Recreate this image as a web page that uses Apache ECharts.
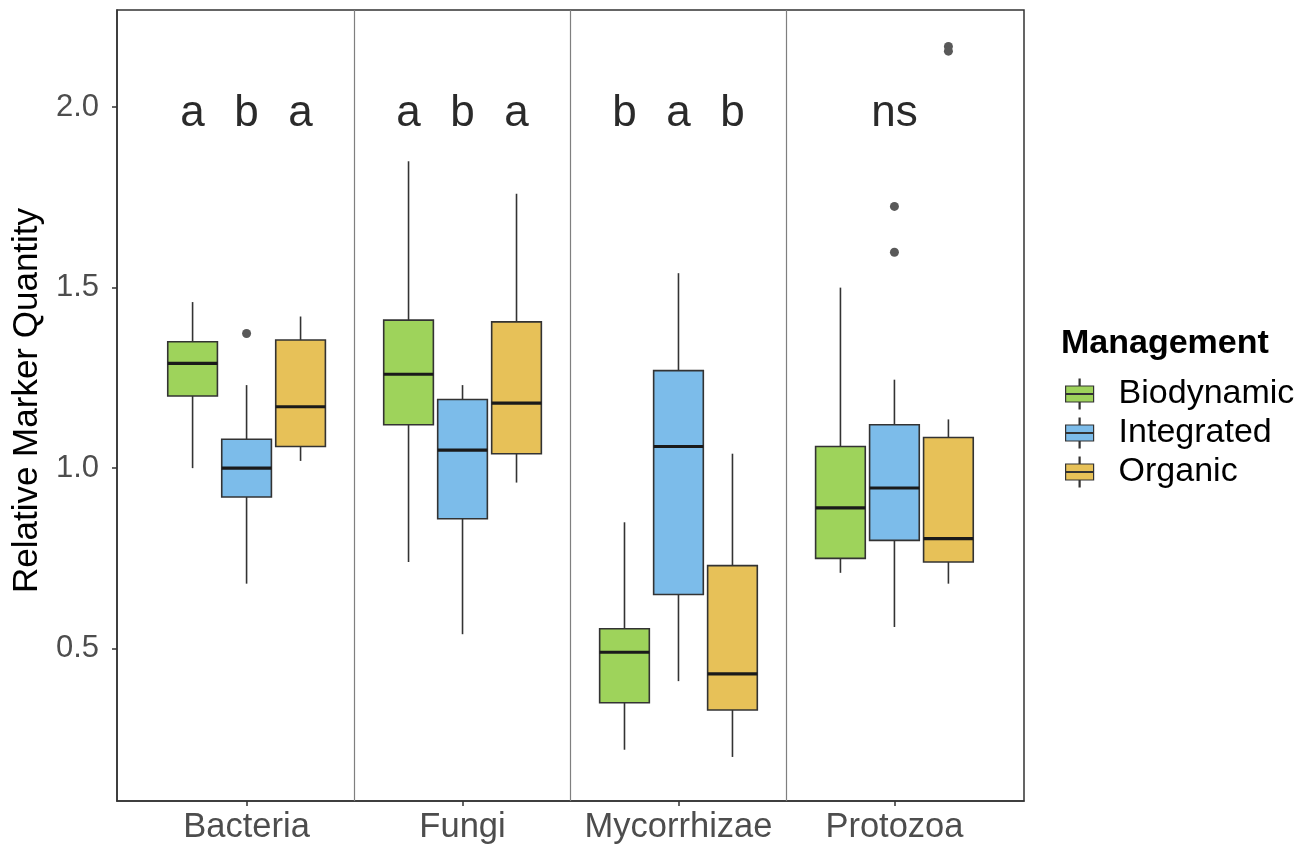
<!DOCTYPE html>
<html>
<head>
<meta charset="utf-8">
<title>Relative Marker Quantity by Management</title>
<script src="https://cdn.jsdelivr.net/npm/echarts@6/dist/echarts.min.js"></script>
<style>
  html, body { margin: 0; padding: 0; background: #ffffff; }
  #chart { width: 1298px; height: 845px; }
</style>
</head>
<body>
<div id="chart"></div>
<script>
// Marker groups along the x axis
const CATEGORIES = ['Bacteria', 'Fungi', 'Mycorrhizae', 'Protozoa'];
const MANAGEMENT = ['Biodynamic', 'Integrated', 'Organic'];
const Y_TICKS = [0.5, 1.0, 1.5, 2.0];

// Box statistics per marker group: [lower whisker, Q1, median, Q3, upper whisker]
const biodynamicStats = [
  [1.00, 1.20, 1.29, 1.35, 1.46],
  [0.74, 1.12, 1.26, 1.41, 1.85],
  [0.22, 0.35, 0.49, 0.555, 0.85],
  [0.71, 0.75, 0.89, 1.06, 1.50]
];
const integratedStats = [
  [0.68, 0.92, 1.00, 1.08, 1.23],
  [0.54, 0.86, 1.05, 1.19, 1.23],
  [0.41, 0.65, 1.06, 1.27, 1.54],
  [0.56, 0.80, 0.945, 1.12, 1.245]
];
const organicStats = [
  [1.02, 1.06, 1.17, 1.355, 1.42],
  [0.96, 1.04, 1.18, 1.405, 1.76],
  [0.20, 0.33, 0.43, 0.73, 1.04],
  [0.68, 0.74, 0.805, 1.085, 1.135]
];

// Outlying observations: [marker group index, value]
const biodynamicOutliers = [];
const integratedOutliers = [[0, 1.373], [3, 1.725], [3, 1.598]];
const organicOutliers = [[3, 2.168], [3, 2.155]];

// Significance letters per marker group (one per management type, or one for the group)
const SIGNIFICANCE = [
  ['a', 'b', 'a'],
  ['a', 'b', 'a'],
  ['b', 'a', 'b'],
  ['ns']
];
const SIG_LEVEL = 1.98;

const COLORS = ['#9ED35B', '#7CBCEA', '#E7C158'];
const STATS = [biodynamicStats, integratedStats, organicStats];
const OUTLIERS = [biodynamicOutliers, integratedOutliers, organicOutliers];

const DODGE = [-0.25, 0, 0.25];   // horizontal offset of each management box within a group
const BOX_W = 0.23;               // box width in x-axis units
const FONT = 'Liberation Sans, Arial, Helvetica, sans-serif';

const chart = echarts.init(document.getElementById('chart'), null, { renderer: 'canvas' });

function boxRenderer(gi) {
  return function (params, api) {
    const x = api.value(0) + DODGE[gi];
    const low = api.coord([x, api.value(1)]);
    const q1 = api.coord([x, api.value(2)]);
    const med = api.coord([x, api.value(3)]);
    const q3 = api.coord([x, api.value(4)]);
    const high = api.coord([x, api.value(5)]);
    const halfW = api.size([BOX_W, 0])[0] / 2;
    const cx = q1[0];
    return {
      type: 'group',
      children: [
        { type: 'line', shape: { x1: cx, y1: low[1], x2: cx, y2: q1[1] },
          style: { stroke: '#333333', lineWidth: 1.6 } },
        { type: 'line', shape: { x1: cx, y1: q3[1], x2: cx, y2: high[1] },
          style: { stroke: '#333333', lineWidth: 1.6 } },
        { type: 'rect', shape: { x: cx - halfW, y: q3[1], width: 2 * halfW, height: q1[1] - q3[1] },
          style: { fill: COLORS[gi], stroke: '#333333', lineWidth: 1.6 } },
        { type: 'line', shape: { x1: cx - halfW, y1: med[1], x2: cx + halfW, y2: med[1] },
          style: { stroke: '#1a1a1a', lineWidth: 3.2 } }
      ]
    };
  };
}

const boxSeries = MANAGEMENT.map(function (name, gi) {
  return {
    name: name,
    type: 'custom',
    renderItem: boxRenderer(gi),
    encode: { x: 0, y: [1, 2, 3, 4, 5] },
    itemStyle: { color: COLORS[gi], borderColor: '#333333', borderWidth: 1.2 },
    data: STATS[gi].map(function (s, ci) { return [ci + 1].concat(s); }),
    z: 3
  };
});

// Outlier points, dodged the same way as their boxes
const outlierData = [];
OUTLIERS.forEach(function (list, gi) {
  list.forEach(function (o) { outlierData.push([o[0] + 1 + DODGE[gi], o[1]]); });
});

// Significance letters placed above each box (or group)
const letterData = [];
SIGNIFICANCE.forEach(function (letters, ci) {
  letters.forEach(function (txt, li) {
    const off = letters.length === 1 ? 0 : DODGE[li];
    letterData.push({ value: [ci + 1 + off, SIG_LEVEL], label: { formatter: txt } });
  });
});

// Vertical separators between marker groups
const separators = CATEGORIES.slice(1).map(function (_, i) { return { xAxis: i + 1.5 }; });

const legendIcon = 'path://M0,7 L28,7 L28,23 L0,23 Z M13.5,0 L14.5,0 L14.5,7 L13.5,7 Z ' +
  'M13.5,23 L14.5,23 L14.5,30 L13.5,30 Z M0,14.5 L28,14.5 L28,15.5 L0,15.5 Z';

const option = {
  animation: false,
  backgroundColor: '#ffffff',
  textStyle: { fontFamily: FONT },
  title: {
    text: 'Management',
    left: 1061,
    top: 327,
    padding: 0,
    textStyle: { fontFamily: FONT, fontSize: 34, fontWeight: 'bold', color: '#000000' }
  },
  legend: {
    data: MANAGEMENT.map(function (n, gi) {
      return { name: n, icon: legendIcon,
        itemStyle: { color: COLORS[gi], borderColor: '#333333', borderWidth: 1.2 } };
    }),
    orient: 'vertical',
    left: 1065,
    top: 377,
    padding: 0,
    itemWidth: 28,
    itemHeight: 30,
    itemGap: 5,
    selectedMode: false,
    textStyle: { fontFamily: FONT, fontSize: 34, lineHeight: 30, color: '#000000', padding: [0, 0, 0, 20] }
  },
  grid: {
    left: 117,
    right: 274,
    top: 10,
    bottom: 43,
    show: true,
    borderColor: '#333333',
    borderWidth: 1.5,
    backgroundColor: '#ffffff'
  },
  xAxis: {
    type: 'value',
    min: 0.4,
    max: 4.6,
    axisLine: { show: true, lineStyle: { color: '#333333', width: 1.5 } },
    axisTick: { show: true, length: 5, customValues: [1, 2, 3, 4], lineStyle: { color: '#333333', width: 1.5 } },
    axisLabel: {
      show: true,
      customValues: [1, 2, 3, 4],
      formatter: function (v) { return CATEGORIES[Math.round(v) - 1] || ''; },
      fontSize: 34.5,
      color: '#4D4D4D',
      margin: 9
    },
    splitLine: { show: false }
  },
  yAxis: {
    type: 'value',
    min: 0.078,
    max: 2.269,
    name: 'Relative Marker Quantity',
    nameLocation: 'middle',
    nameRotate: 90,
    nameGap: 71,
    nameTextStyle: { fontFamily: FONT, fontSize: 35, color: '#000000', padding: [0, 0, 0, 10] },
    axisLine: { show: true, lineStyle: { color: '#333333', width: 1.5 } },
    axisTick: { show: true, length: 5, customValues: Y_TICKS, lineStyle: { color: '#333333', width: 1.5 } },
    axisLabel: {
      show: true,
      customValues: Y_TICKS,
      formatter: function (v) { return v.toFixed(1); },
      fontSize: 31,
      color: '#4D4D4D',
      margin: 18,
      padding: [7, 0, 0, 0]
    },
    splitLine: { show: false }
  },
  series: boxSeries.concat([
    {
      name: 'outliers',
      type: 'scatter',
      symbol: 'circle',
      symbolSize: 9,
      itemStyle: { color: '#595959', opacity: 1 },
      data: outlierData,
      z: 4,
      markLine: {
        silent: true,
        symbol: 'none',
        label: { show: false },
        lineStyle: { color: '#7f7f7f', width: 1.2, type: 'solid' },
        data: separators,
        z: 1
      }
    },
    {
      name: 'letters',
      type: 'scatter',
      symbolSize: 0,
      silent: true,
      itemStyle: { opacity: 1 },
      data: letterData,
      label: {
        show: true,
        position: 'inside',
        fontFamily: FONT,
        fontSize: 44,
        color: '#2a2a2a'
      },
      z: 5
    }
  ])
};

chart.setOption(option);
</script>
</body>
</html>
